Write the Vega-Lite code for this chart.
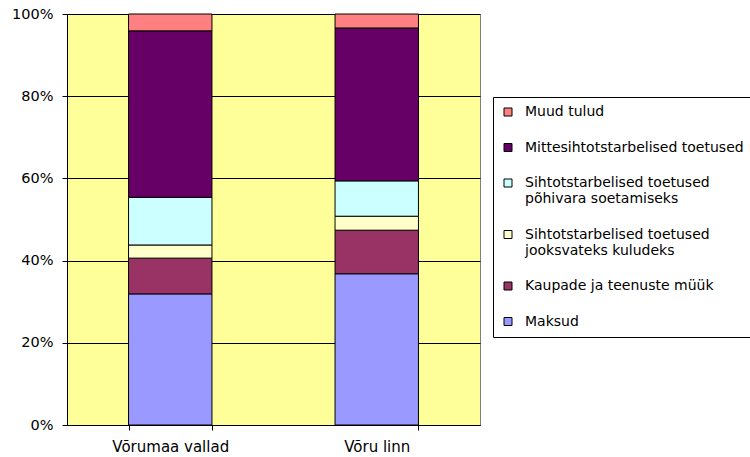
{
  "$schema": "https://vega.github.io/schema/vega-lite/v6.json",
  "width": 413,
  "height": 411,
  "autosize": {"type": "none"},
  "padding": {"left": 67, "top": 14, "right": 270, "bottom": 32},
  "background": "white",
  "config": {
    "font": "DejaVu Sans",
    "view": {"fill": "#FFFF99", "stroke": "#808080", "strokeWidth": 1}
  },
  "data": {
    "values": [
      {"group": "Võrumaa vallad", "series": "Maksud", "ord": 1, "value": 31.9},
      {"group": "Võrumaa vallad", "series": "Kaupade ja teenuste müük", "ord": 2, "value": 8.7},
      {"group": "Võrumaa vallad", "series": "Sihtotstarbelised toetused jooksvateks kuludeks", "ord": 3, "value": 3.2},
      {"group": "Võrumaa vallad", "series": "Sihtotstarbelised toetused põhivara soetamiseks", "ord": 4, "value": 11.6},
      {"group": "Võrumaa vallad", "series": "Mittesihtotstarbelised toetused", "ord": 5, "value": 40.5},
      {"group": "Võrumaa vallad", "series": "Muud tulud", "ord": 6, "value": 4.1},
      {"group": "Võru linn", "series": "Maksud", "ord": 1, "value": 36.8},
      {"group": "Võru linn", "series": "Kaupade ja teenuste müük", "ord": 2, "value": 10.6},
      {"group": "Võru linn", "series": "Sihtotstarbelised toetused jooksvateks kuludeks", "ord": 3, "value": 3.4},
      {"group": "Võru linn", "series": "Sihtotstarbelised toetused põhivara soetamiseks", "ord": 4, "value": 8.6},
      {"group": "Võru linn", "series": "Mittesihtotstarbelised toetused", "ord": 5, "value": 37.2},
      {"group": "Võru linn", "series": "Muud tulud", "ord": 6, "value": 3.4}
    ]
  },
  "mark": {"type": "bar", "stroke": "black", "strokeWidth": 1},
  "encoding": {
    "x": {
      "field": "group",
      "type": "nominal",
      "sort": ["Võrumaa vallad", "Võru linn"],
      "title": null,
      "scale": {"paddingInner": 0.596, "paddingOuter": 0.298},
      "axis": {
        "labelAngle": 0,
        "labelFontSize": 15,
        "labelColor": "black",
        "labelPadding": 9,
        "tickBand": "extent",
        "tickColor": "black",
        "tickSize": 5,
        "domainColor": "black",
        "grid": false
      }
    },
    "y": {
      "field": "value",
      "type": "quantitative",
      "stack": "normalize",
      "title": null,
      "scale": {"domain": [0, 1]},
      "axis": {
        "format": ".0%",
        "values": [0, 0.2, 0.4, 0.6, 0.8, 1],
        "labelFontSize": 14.5,
        "labelColor": "black",
        "labelPadding": 9,
        "tickColor": "black",
        "tickSize": 5,
        "domainColor": "black",
        "grid": true,
        "gridColor": "black",
        "gridOpacity": 1,
        "gridWidth": 1
      }
    },
    "order": {"field": "ord", "type": "quantitative", "sort": "ascending"},
    "color": {
      "field": "series",
      "type": "nominal",
      "scale": {
        "domain": ["Muud tulud", "Mittesihtotstarbelised toetused", "Sihtotstarbelised toetused põhivara soetamiseks", "Sihtotstarbelised toetused jooksvateks kuludeks", "Kaupade ja teenuste müük", "Maksud"],
        "range": ["#FF8080", "#660066", "#CCFFFF", "#FFFFCC", "#993366", "#9999FF"]
      },
      "legend": {
        "title": null,
        "orient": "none",
        "legendX": 426,
        "legendY": 83,
        "strokeColor": "black",
        "fillColor": "white",
        "padding": 8,
        "symbolType": "square",
        "symbolSize": 64,
        "symbolStrokeColor": "black",
        "symbolStrokeWidth": 1,
        "symbolOpacity": 1,
        "labelFontSize": 14,
        "labelColor": "black",
        "labelLimit": 300,
        "labelOffset": 10,
        "labelLineHeight": 18,
        "rowPadding": 21.5,
        "labelExpr": "indexof(datum.label, 'Sihtotstarbelised') == 0 ? [slice(datum.label, 0, 26), slice(datum.label, 27)] : datum.label"
      }
    }
  }
}
